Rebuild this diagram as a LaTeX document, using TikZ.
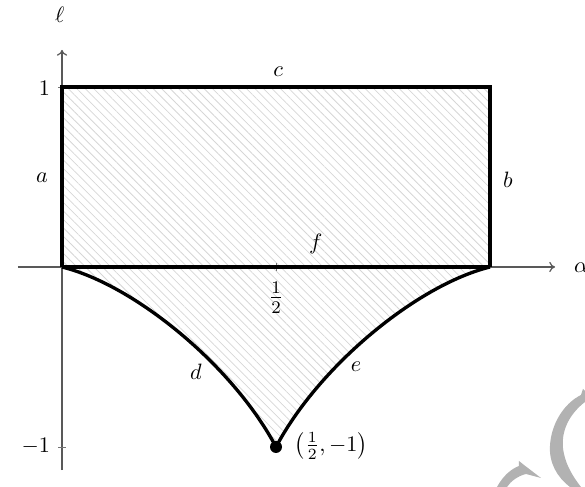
\documentclass[tikz,border=0pt]{standalone}
\usepackage{amsmath}
\usetikzlibrary{patterns.meta,arrows.meta}
\begin{document}
\begin{tikzpicture}[x=192.6pt,y=81pt,
  axis/.style={draw=black!65,line width=0.55pt},
  ticky/.style={draw=black!55,line width=0.35pt},
  border/.style={draw=black,line width=1.5pt,line join=miter},
  hatch/.style={pattern={Lines[angle=-45,distance=2.7pt,line width=0.35pt]},pattern color=black!16},
  lbl/.style={inner sep=1pt},
  wm/.style={fill=black!30,draw=none}]
\useasboundingbox (-0.1449,-1.2222) rectangle (1.2220,1.4833);
% points
\coordinate (O) at (0,0);
\coordinate (A) at (1,0);
\coordinate (B) at (1,1);
\coordinate (C) at (0,1);
\coordinate (P) at (0.5,-1);
\coordinate (xs) at (-0.103,0);
\coordinate (xe) at (1.152,0);
\coordinate (ys) at (0,-1.128);
\coordinate (ye) at (0,1.206);
% hatched region
\fill[hatch] (O) -- (C) -- (B) -- (A) .. controls (0.83,-0.1) and (0.6,-0.55) .. (P)
  .. controls (0.4,-0.55) and (0.17,-0.1) .. (O) -- cycle;
% axes
\draw[axis,-{To[length=2.6pt,width=4.6pt]}] (xs) -- (xe);
\draw[axis,-{To[length=2.6pt,width=4.6pt]}] (ys) -- (ye);
\node[lbl] (alpha) at (1.213,-0.006) {$\alpha$};
\node[lbl] (ell) at (-0.005,1.40) {$\ell$};
% ticks
\coordinate (t1) at (0,1);
\coordinate (tm1) at (0,-1);
\coordinate (th) at (0.5,0);
\draw[ticky] ([xshift=-1.8pt]t1) -- ([xshift=1.8pt]t1);
\draw[ticky] ([xshift=-1.8pt]tm1) -- ([xshift=1.8pt]tm1);
\draw[ticky] ([yshift=-1.8pt]th) -- ([yshift=1.8pt]th);
\node[lbl,anchor=east] (one) at (-0.022,0.994) {$1$};
\node[lbl,anchor=east] (mone) at (-0.022,-0.994) {$-1$};
\node[lbl,font=\large] (half) at (0.5,-0.17) {$\frac{1}{2}$};
% boundary
\draw[border] (O) -- (C) -- (B) -- (A);
\draw[border] (O) -- (A);
\draw[border] (O) .. controls (0.17,-0.1) and (0.4,-0.55) .. (P);
\draw[border] (A) .. controls (0.83,-0.1) and (0.6,-0.55) .. (P);
\fill (P) circle (2.7pt);
% labels
\node[lbl] (c) at (0.505,1.085) {$c$};
\node[lbl] (a) at (-0.047,0.494) {$a$};
\node[lbl] (b) at (1.042,0.483) {$b$};
\node[lbl] (f) at (0.593,0.13) {$f$};
\node[lbl] (d) at (0.313,-0.58) {$d$};
\node[lbl] (e) at (0.687,-0.555) {$e$};
\node[lbl,anchor=west] (pt) at (0.538,-0.994) {$\left(\frac{1}{2},-1\right)$};
% watermark fragment
\begin{scope}[shift={(-0.14486,1.48333)},x=0.45pt,y=-0.45pt]
\path[wm] (583,389) -- (585,391) -- (585,402) .. controls (572,412) and (561,428) .. (563,448)
  .. controls (565,465) and (574,478) .. (581,487) -- (570,487)
  .. controls (557,477) and (549,463) .. (550,446)
  .. controls (551,425) and (563,404) .. (581,395) -- cycle;
\path[wm] (497,487) .. controls (503,476) and (511,469) .. (519,466) -- (519,461) -- (524,465)
  -- (541,478) -- (526,474) .. controls (518,476) and (511,481) .. (507,487) -- cycle;
\end{scope}
\end{tikzpicture}
\end{document}
